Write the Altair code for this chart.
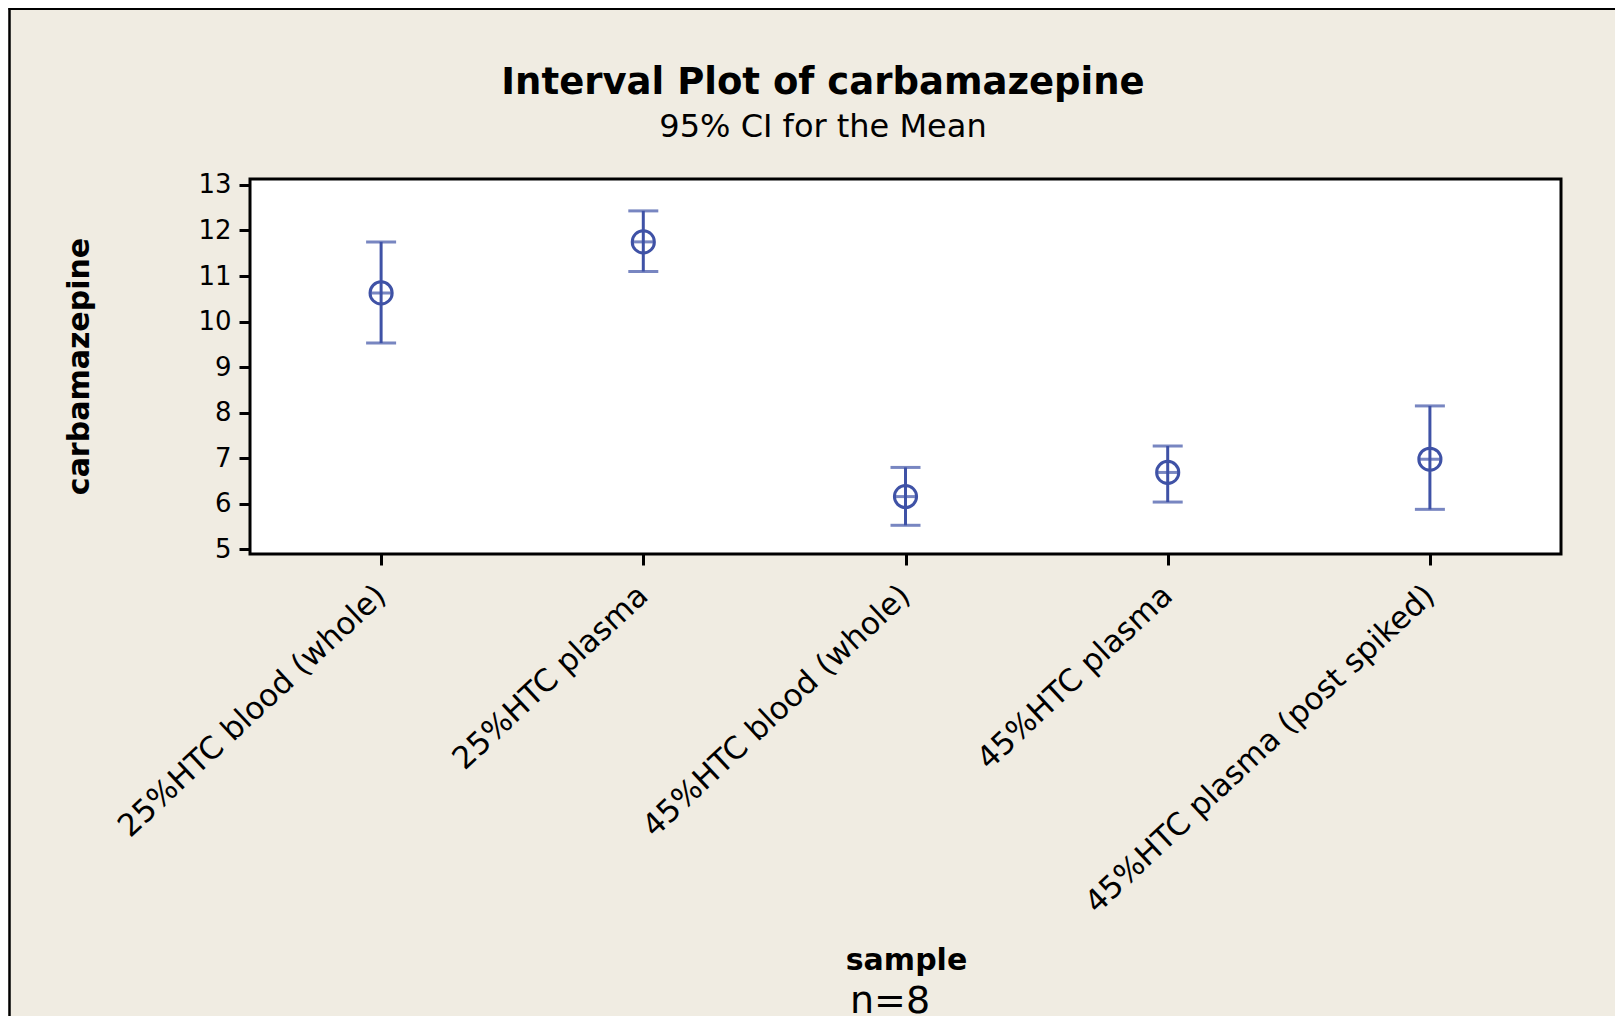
import altair as alt
import pandas as pd

samples = ["25%HTC blood (whole)", "25%HTC plasma", "45%HTC blood (whole)",
           "45%HTC plasma", "45%HTC plasma (post spiked)"]
means = [10.63, 11.75, 6.16, 6.69, 6.98]
lower = [9.53, 11.10, 5.53, 6.04, 5.88]
upper = [11.75, 12.43, 6.80, 7.27, 8.15]
y_ticks = [5, 6, 7, 8, 9, 10, 11, 12, 13]

title_text = "Interval Plot of carbamazepine"
subtitle_text = "95% CI for the Mean"
footnote_text = "n=8"

df = pd.DataFrame({"sample": samples, "mean": means, "lower": lower, "upper": upper})

BLUE = "#3F52A6"
FONT = "DejaVu Sans"
SW = 3

xenc = alt.X("sample:N", sort=None,
             scale=alt.Scale(type="point", padding=0.5),
             axis=alt.Axis(title="sample", labelAngle=-43, labelAlign="right",
                           labelBaseline="middle", labelPadding=26, labelLimit=2000,
                           labelFontSize=31, labelFont=FONT, labelColor="black",
                           labelOverlap=False, labelBound=False,
                           tickSize=11, tickWidth=3, tickColor="black", domain=False,
                           titleFont=FONT, titleFontSize=30, titleFontWeight="bold",
                           titleColor="black", titleX=656, titleY=406,
                           titleBaseline="middle", titleAlign="center"))
yscale = alt.Scale(domain=[4.9, 13.13], nice=False, zero=False)
yaxis = alt.Axis(title="carbamazepine", values=y_ticks, grid=False,
                 labelFontSize=26, labelFont=FONT, labelColor="black", labelPadding=8,
                 tickSize=11, tickWidth=3, tickColor="black", domain=False,
                 titleFont=FONT, titleFontSize=30, titleFontWeight="bold",
                 titleColor="black", titleX=-171, titleY=187, titleAngle=-90,
                 titleBaseline="middle", titleAlign="center")

base = alt.Chart(df)

rule = base.mark_rule(color=BLUE, strokeWidth=SW).encode(
    x=xenc, y=alt.Y("lower:Q", scale=yscale, axis=yaxis), y2="upper:Q")
cap_hi = base.mark_tick(color=BLUE, thickness=SW, size=30, orient="horizontal").encode(
    x=alt.X("sample:N", sort=None), y="upper:Q")
cap_lo = base.mark_tick(color=BLUE, thickness=SW, size=30, orient="horizontal").encode(
    x=alt.X("sample:N", sort=None), y="lower:Q")
circ = base.mark_point(shape="circle", filled=False, color=BLUE, strokeWidth=SW,
                       size=490, opacity=1).encode(
    x=alt.X("sample:N", sort=None), y="mean:Q")
cross = base.mark_tick(color=BLUE, thickness=SW, size=22, orient="horizontal").encode(
    x=alt.X("sample:N", sort=None), y="mean:Q")

one = pd.DataFrame({"k": [0]})
left_border = alt.Chart(one).mark_rule(color="black", strokeWidth=2.5).encode(
    x=alt.value(-240.5), y=alt.value(-171), y2=alt.value(900))
top_border = alt.Chart(one).mark_rule(color="black", strokeWidth=2).encode(
    x=alt.value(-241.5), x2=alt.value(1400), y=alt.value(-170))

title_mark = alt.Chart(pd.DataFrame({"t": [title_text]})).mark_text(
    font=FONT, fontSize=37, fontWeight="bold", color="black",
    baseline="alphabetic", align="center").encode(
    text="t:N", x=alt.value(573), y=alt.value(-85))
subtitle_mark = alt.Chart(pd.DataFrame({"t": [subtitle_text]})).mark_text(
    font=FONT, fontSize=32, color="black", baseline="alphabetic", align="center").encode(
    text="t:N", x=alt.value(573), y=alt.value(-42))
ntext = alt.Chart(pd.DataFrame({"t": [footnote_text]})).mark_text(
    font=FONT, fontSize=38, color="black", baseline="alphabetic", align="center").encode(
    text="t:N", x=alt.value(640), y=alt.value(834))

chart = alt.layer(rule, cap_hi, cap_lo, circ, cross, left_border, top_border,
                  title_mark, subtitle_mark, ntext).properties(
    width=1311, height=375,
    autosize=alt.AutoSizeParams(type="none"),
    padding={"left": 242, "top": 171, "right": 54, "bottom": 462},
    background="#F0ECE2",
).configure_view(fill="white", stroke="black", strokeWidth=3)

chart.save("out.html", embed_options={"renderer": "svg", "actions": False})
